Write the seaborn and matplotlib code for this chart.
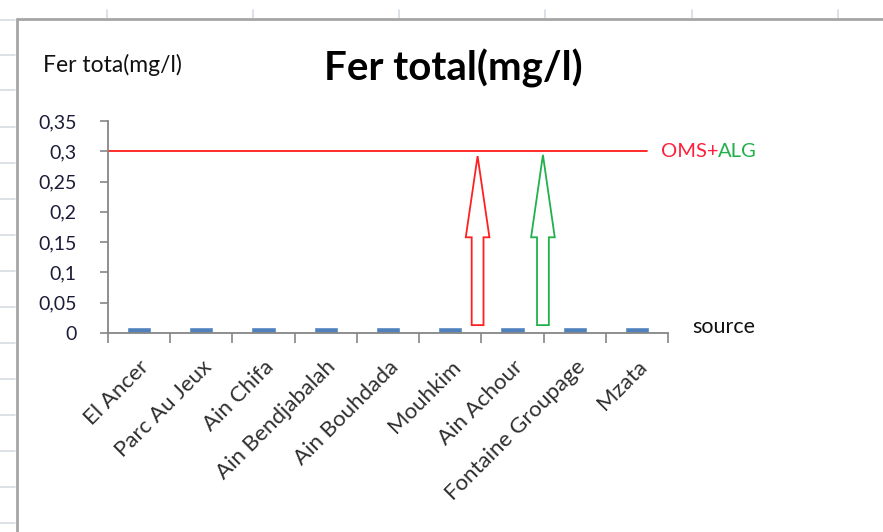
import matplotlib
matplotlib.use("Agg")
import matplotlib.pyplot as plt
from matplotlib.lines import Line2D
from matplotlib.patches import Polygon
import seaborn as sns

# Sampling sites and measured total iron (mg/l)
sources = ["El Ancer", "Parc Au Jeux", "Ain Chifa", "Ain Bendjabalah", "Ain Bouhdada",
           "Mouhkim", "Ain Achour", "Fontaine Groupage", "Mzata"]
fer_total = [0.01, 0.01, 0.01, 0.01, 0.01, 0.01, 0.01, 0.01, 0.01]
norme_oms_alg = 0.3
y_ticks = [0, 0.05, 0.1, 0.15, 0.2, 0.25, 0.3, 0.35]
y_tick_labels = ["0", "0,05", "0,1", "0,15", "0,2", "0,25", "0,3", "0,35"]

sns.set_theme(style="white")
plt.rcParams["font.family"] = ["Lato", "DejaVu Sans"]

W, H = 883, 532
fig = plt.figure(figsize=(W / 100, H / 100), dpi=100)
fig.patch.set_facecolor("white")


def fx(px):
    return px / W


def fy(py):
    return 1 - py / H


# worksheet grid stubs around the chart object
grid_col = "#d6dce4"
for gx in [107, 253, 399, 545, 692, 838]:
    fig.add_artist(Line2D([fx(gx), fx(gx)], [fy(10), fy(19)], color=grid_col, lw=1.2))
for gy in [20, 55, 90, 127, 163, 199, 235, 271, 307, 343, 379, 415, 451, 487, 523]:
    fig.add_artist(Line2D([fx(0), fx(15)], [fy(gy), fy(gy)], color=grid_col, lw=1.2))
# chart frame
fig.add_artist(Line2D([fx(17), fx(17)], [fy(19), fy(H + 2)], color="#a6a6a6", lw=2))
fig.add_artist(Line2D([fx(17), fx(W + 2)], [fy(19), fy(19)], color="#a6a6a6", lw=2))

ax_left, ax_right, ax_top, ax_bottom = 108, 668, 121, 333
ax = fig.add_axes([fx(ax_left), fy(ax_bottom), fx(ax_right - ax_left), (ax_bottom - ax_top) / H])

sns.barplot(x=sources, y=fer_total, color="#4F81BD", saturation=1, width=0.39, ax=ax)

ax.set_xlim(-0.5, len(sources) - 0.5)
ax.set_ylim(0, 0.35)
ax.set_facecolor("none")
for s in ["top", "right"]:
    ax.spines[s].set_visible(False)
for s in ["left", "bottom"]:
    ax.spines[s].set_color("#868686")
    ax.spines[s].set_linewidth(1.3)

ax.set_yticks(y_ticks)
ax.set_yticklabels(y_tick_labels, fontsize=14, color="#1c1c38")
ax.tick_params(axis="y", length=6, width=1.2, color="#868686", pad=16.5, left=True)

ax.set_xticks(range(len(sources)))
ax.set_xticklabels(sources, rotation=45, ha="right", va="top", fontsize=16,
                   color="#2e2e2e", rotation_mode="anchor")
ax.tick_params(axis="x", length=0, pad=17, bottom=True)
ax.set_xticks([i - 0.5 for i in range(len(sources) + 1)], minor=True)
ax.tick_params(axis="x", which="minor", length=7, width=1.2, color="#868686", bottom=True)
ax.set_xlabel("")
ax.set_ylabel("")

# guideline value (OMS + Algerian standard)
ax.plot([-0.5, 8.17], [norme_oms_alg, norme_oms_alg], color="#ff1a1a", lw=1.3, clip_on=False)
t_oms = ax.text(8.38, norme_oms_alg, "OMS+", color="#ff1f3c", fontsize=14.5,
                va="center", ha="left")
ax.annotate("ALG", xy=(1, 0.5), xycoords=t_oms, color="#22b04c", fontsize=14.5,
            va="center", ha="left")


def hollow_arrow(xc, y0, y1, head_base, color):
    sw, hw = 0.095, 0.19
    pts = [(xc - sw, y0), (xc + sw, y0), (xc + sw, head_base), (xc + hw, head_base),
           (xc, y1), (xc - hw, head_base), (xc - sw, head_base)]
    ax.add_patch(Polygon(pts, closed=True, fill=False, edgecolor=color, lw=1.3))


hollow_arrow(5.44, 0.013, 0.292, 0.158, "#ff2020")
hollow_arrow(6.49, 0.013, 0.294, 0.158, "#22b04c")

ax.text(8.89, 0.01, "source", fontsize=15.5, color="#111111", va="center", ha="left")

fig.text(fx(43), fy(65), "Fer tota(mg/l)", fontsize=16.5, color="#111111",
         va="center", ha="left")
fig.text(fx(453), fy(68), "Fer total(mg/l)", fontsize=29, fontweight="bold",
         color="#000000", va="center", ha="center")

fig.savefig("out.png", dpi=100)
